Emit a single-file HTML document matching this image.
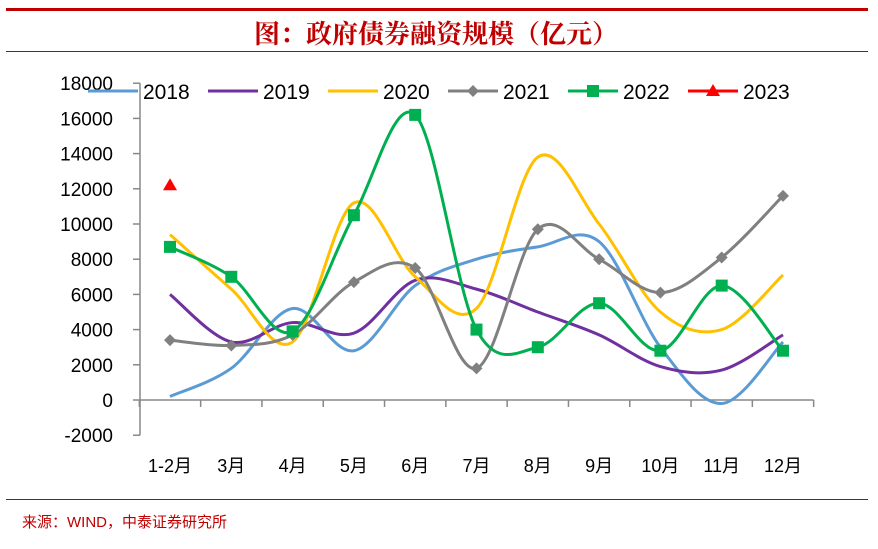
<!DOCTYPE html>
<html><head><meta charset="utf-8"><style>
body{margin:0;background:#fff;width:878px;height:544px;overflow:hidden}
svg text{font-family:"Liberation Sans","Noto Sans CJK SC",sans-serif}
</style></head><body>
<svg width="878" height="544">
<rect x="6" y="8" width="862" height="3" fill="#c00000"/>
<text x="436" y="43" text-anchor="middle" font-size="26" font-weight="bold" fill="#c00000" style="font-family:'Noto Serif CJK SC',serif">图：政府债券融资规模（亿元）</text>
<rect x="6" y="51" width="862" height="1" fill="#c00000"/>
<rect x="6" y="499" width="862" height="1" fill="#c00000"/>
<text x="22" y="527" font-size="15" fill="#c00000">来源：WIND，中泰证券研究所</text>
<g id="axes"></g><g id="series"></g><g id="legend"></g>
</svg>
<script>
const categories=["1-2月","3月","4月","5月","6月","7月","8月","9月","10月","11月","12月"];
const yTicks=[-2000,0,2000,4000,6000,8000,10000,12000,14000,16000,18000];
const s2018=[200,1800,5200,2800,6500,8000,8700,9000,3000,-200,3300];
const s2019=[6000,3300,4400,3800,6800,6300,5000,3700,1900,1700,3700];
const s2020=[9400,6300,3300,11200,7000,5200,13800,10000,5000,4000,7100];
const s2021=[3400,3100,3700,6700,7500,1800,9700,8000,6100,8100,11600];
const s2022=[8700,7000,3900,10500,16200,4000,3000,5500,2800,6500,2800];
const s2023=[12200];
const NS="http://www.w3.org/2000/svg";
function X(i){return 170+i*61.3;}
function Y(v){return 400-v*35.2/2000;}
function el(t,a,p){const e=document.createElementNS(NS,t);for(const k in a)e.setAttribute(k,a[k]);p.appendChild(e);return e;}
const ax=document.getElementById('axes');
let e=el('line',{x1:140,y1:Y(18000),x2:140,y2:Y(-2000),stroke:'#888','stroke-width':1.5},ax);


yTicks.forEach(v=>{
 el('line',{x1:133,y1:Y(v),x2:140,y2:Y(v),stroke:'#888','stroke-width':1.5},ax);
 const t=el('text',{x:113,y:Y(v)+7,'text-anchor':'end','font-size':19,fill:'#000'},ax);
 t.textContent=v;
 
 
});
e=el('line',{x1:140,y1:Y(0),x2:X(10.5),y2:Y(0),stroke:'#888','stroke-width':1.5},ax);


for(let i=0;i<=categories.length;i++)el('line',{x1:X(i-0.5),y1:Y(0),x2:X(i-0.5),y2:Y(0)+7,stroke:'#888','stroke-width':1.5},ax);
categories.forEach((c,i)=>{
 const t=el('text',{x:X(i),y:472,'text-anchor':'middle','font-size':18,fill:'#000'},ax);
 t.textContent=c;
 
 
});
function smooth(d){
 const p=d.map((v,i)=>[X(i),Y(v)]);let s=`M${p[0][0]},${p[0][1]}`;
 for(let i=0;i<p.length-1;i++){const p0=p[i-1]||p[i],p1=p[i],p2=p[i+1],p3=p[i+2]||p2;
  s+=` C${p1[0]+(p2[0]-p0[0])/6},${p1[1]+(p2[1]-p0[1])/6} ${p2[0]-(p3[0]-p1[0])/6},${p2[1]-(p3[1]-p1[1])/6} ${p2[0]},${p2[1]}`;}
 return s;}
const sg=document.getElementById('series');
const defs=[[s2018,'#5b9bd5','none','2018'],[s2019,'#7030a0','none','2019'],[s2020,'#ffc000','none','2020'],[s2021,'#808080','diamond','2021'],[s2022,'#00b050','square','2022']];
defs.forEach(([d,c,m,n])=>{
 const p=el('path',{d:smooth(d),fill:'none',stroke:c,'stroke-width':3},sg);
 
 
 d.forEach((v,i)=>{
  if(m==='diamond'){const q=el('path',{d:`M${X(i)},${Y(v)-6}l6,6l-6,6l-6,-6z`,fill:c},sg);
   
   }
  if(m==='square'){const q=el('rect',{x:X(i)-6,y:Y(v)-6,width:12,height:12,fill:c},sg);
   
   }
 });
});
s2023.forEach((v,i)=>{const q=el('path',{d:`M${X(i)},${Y(v)-7}l7,12h-14z`,fill:'#ff0000'},sg);
 
 });
const lg=document.getElementById('legend');
const items=[['2018','#5b9bd5',''],['2019','#7030a0',''],['2020','#ffc000',''],['2021','#808080','d'],['2022','#00b050','s'],['2023','#ff0000','t']];
items.forEach(([n,c,m],k)=>{
 const x0=88+k*120,y0=91;
 const g=el('g',{},lg);
 
 
 el('line',{x1:x0,y1:y0,x2:x0+50,y2:y0,stroke:c,'stroke-width':3},g);
 const cx=x0+25;
 if(m==='d')el('path',{d:`M${cx},${y0-6}l6,6l-6,6l-6,-6z`,fill:c},g);
 if(m==='s')el('rect',{x:cx-6,y:y0-6,width:12,height:12,fill:c},g);
 if(m==='t')el('path',{d:`M${cx},${y0-7}l7,12h-14z`,fill:c},g);
 const t=el('text',{x:x0+55,y:y0+8,'font-size':21,fill:'#000'},g);t.textContent=n;
});
</script>
</body></html>
